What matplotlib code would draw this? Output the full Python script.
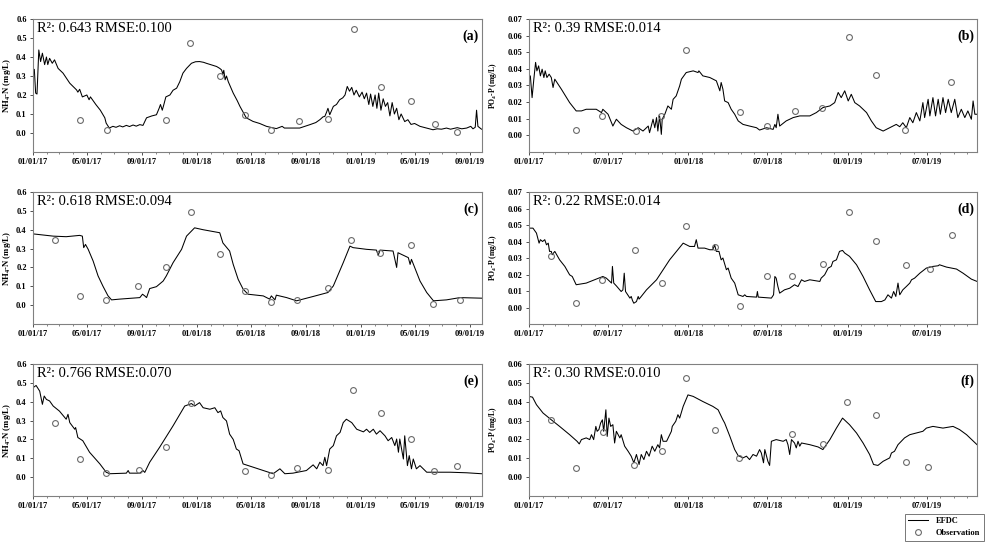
import numpy as np
import pandas as pd
import matplotlib.pyplot as plt
import matplotlib.dates as mdates
from matplotlib.ticker import FixedLocator, FormatStrFormatter

plt.rcParams['font.family'] = ['Liberation Serif', 'DejaVu Serif']
plt.rcParams['mathtext.fontset'] = 'custom'
plt.rcParams['mathtext.rm'] = 'Liberation Serif'
plt.rcParams['mathtext.bf'] = 'Liberation Serif:bold'

START = pd.Timestamp('2017-01-01')

# ---- (a) NH4-N, station 1 (days since 01/01/17) ----
a_days = [0, 3, 6, 9, 13, 17, 21, 26, 30, 33, 37, 43, 48, 56, 67, 82, 97, 100, 104, 110,
          120, 125, 128, 140, 150, 160, 163, 170, 178, 185, 193, 200, 208, 215, 223, 230,
          238, 245, 253, 265, 275, 281, 284, 288, 291, 296, 305, 312, 320, 327, 334, 342,
          353, 362, 371, 380, 386, 398, 409, 416, 420, 423, 425, 428, 431, 435, 446, 455,
          461, 468, 475, 490, 505, 520, 542, 555, 560, 594, 617, 630, 639, 646, 650, 654,
          657, 661, 669, 676, 683, 690, 695, 700, 705, 710, 715, 720, 727, 733, 738, 743,
          748, 752, 757, 762, 766, 770, 775, 780, 785, 790, 795, 800, 805, 810, 815, 820,
          828, 835, 842, 850, 862, 870, 891, 900, 910, 921, 930, 945, 955, 966, 975, 980,
          985, 988, 991, 999]
a_efdc = [0.323, 0.335, 0.21, 0.205, 0.437, 0.376, 0.42, 0.36, 0.40, 0.36, 0.393, 0.367,
          0.385, 0.34, 0.315, 0.262, 0.227, 0.215, 0.23, 0.19, 0.2, 0.175, 0.19, 0.15, 0.12,
          0.08, 0.052, 0.026, 0.035, 0.03, 0.038, 0.032, 0.04, 0.034, 0.042, 0.036, 0.044,
          0.04, 0.08, 0.09, 0.096, 0.13, 0.15, 0.12, 0.145, 0.19, 0.2, 0.225, 0.236, 0.27,
          0.315, 0.34, 0.367, 0.375, 0.376, 0.372, 0.367, 0.358, 0.35, 0.34, 0.332, 0.31,
          0.33, 0.28, 0.3, 0.27, 0.21, 0.17, 0.14, 0.11, 0.08, 0.061, 0.05, 0.035, 0.023,
          0.035, 0.026, 0.026, 0.044, 0.055, 0.07, 0.085, 0.087, 0.11, 0.13, 0.096, 0.14,
          0.15, 0.175, 0.185, 0.2, 0.245, 0.22, 0.24, 0.2, 0.225, 0.19, 0.215, 0.18, 0.21,
          0.15, 0.205, 0.14, 0.2, 0.13, 0.21, 0.12, 0.18, 0.14, 0.16, 0.09, 0.16, 0.1, 0.13,
          0.07, 0.1, 0.06, 0.07, 0.045, 0.05, 0.035, 0.03, 0.017, 0.022, 0.02, 0.026, 0.02,
          0.028, 0.022, 0.026, 0.035, 0.022, 0.03, 0.12, 0.035, 0.02]
a_obs_days = [104, 165, 297, 349, 417, 472, 531, 593, 656, 715, 775, 841, 895, 944]
a_obs = [0.07, 0.017, 0.066, 0.476, 0.30, 0.096, 0.017, 0.061, 0.075, 0.545, 0.241,
         0.171, 0.045, 0.007]

# ---- (c) NH4-N, station 2 ----
c_days = [0, 45, 74, 104, 110, 113, 117, 123, 134, 145, 156, 167, 175, 193, 238, 244,
          249, 253, 260, 275, 290, 297, 312, 331, 342, 360, 379, 416, 423, 438, 446, 457,
          468, 479, 513, 527, 531, 539, 542, 565, 587, 624, 657, 669, 691, 706, 713, 743,
          765, 769, 773, 802, 810, 813, 836, 840, 843, 862, 877, 892, 921, 951, 999]
c_efdc = [0.378, 0.366, 0.363, 0.37, 0.366, 0.305, 0.322, 0.296, 0.234, 0.155, 0.10,
          0.05, 0.028, 0.032, 0.04, 0.058, 0.049, 0.04, 0.088, 0.098, 0.128, 0.155, 0.225,
          0.296, 0.366, 0.41, 0.40, 0.384, 0.33, 0.287, 0.216, 0.137, 0.085, 0.058, 0.049,
          0.032, 0.049, 0.028, 0.053, 0.04, 0.023, 0.046, 0.067, 0.102, 0.225, 0.313,
          0.305, 0.296, 0.292, 0.264, 0.292, 0.287, 0.2, 0.278, 0.252, 0.216, 0.243, 0.128,
          0.067, 0.023, 0.028, 0.04, 0.037]
c_obs_days = [48, 104, 163, 233, 296, 351, 416, 472, 531, 587, 656, 709, 773, 842, 892, 951]
c_obs = [0.343, 0.049, 0.025, 0.102, 0.204, 0.493, 0.271, 0.076, 0.018, 0.028, 0.092,
         0.345, 0.275, 0.32, 0.005, 0.026]

# ---- (e) NH4-N, station 3 ----
e_days = [0, 7, 15, 21, 25, 30, 37, 45, 59, 74, 78, 82, 93, 95, 100, 111, 126, 149, 163,
          171, 208, 212, 215, 238, 245, 249, 260, 282, 312, 338, 353, 360, 371, 379, 394,
          405, 412, 418, 423, 431, 438, 446, 453, 459, 468, 490, 513, 535, 550, 561, 579,
          609, 624, 632, 639, 646, 650, 654, 661, 669, 676, 684, 691, 698, 710, 721, 736,
          743, 750, 758, 765, 773, 784, 791, 799, 806, 810, 814, 817, 825, 828, 834, 838,
          843, 847, 854, 862, 877, 929, 966, 999]
e_efdc = [0.474, 0.486, 0.456, 0.386, 0.43, 0.412, 0.404, 0.377, 0.35, 0.307, 0.333,
          0.289, 0.254, 0.263, 0.21, 0.193, 0.132, 0.07, 0.026, 0.018, 0.021, 0.035, 0.021,
          0.021, 0.035, 0.025, 0.079, 0.158, 0.272, 0.377, 0.39, 0.377, 0.395, 0.368,
          0.36, 0.368, 0.342, 0.351, 0.316, 0.298, 0.228, 0.2, 0.149, 0.14, 0.07, 0.053,
          0.035, 0.018, 0.044, 0.018, 0.021, 0.035, 0.065, 0.044, 0.079, 0.061, 0.105,
          0.061, 0.149, 0.167, 0.219, 0.237, 0.289, 0.307, 0.289, 0.254, 0.24, 0.254,
          0.237, 0.254, 0.228, 0.246, 0.219, 0.193, 0.21, 0.167, 0.202, 0.132, 0.202,
          0.096, 0.219, 0.061, 0.114, 0.044, 0.096, 0.044, 0.061, 0.026, 0.026, 0.023,
          0.018]
e_obs_days = [48, 104, 163, 236, 297, 351, 472, 531, 587, 656, 713, 775, 841, 894, 945]
e_obs = [0.286, 0.096, 0.023, 0.039, 0.158, 0.395, 0.03, 0.012, 0.046, 0.04, 0.461,
         0.342, 0.2, 0.035, 0.058]

# ---- (b) PO4-P, station 1 ----
b_days = [0, 3, 7, 11, 15, 18, 22, 26, 30, 34, 37, 41, 46, 51, 55, 59, 74, 93, 108, 120,
          131, 154, 166, 169, 181, 192, 200, 211, 223, 238, 250, 261, 273, 276, 284, 288,
          292, 295, 299, 303, 305, 311, 318, 326, 330, 337, 345, 349, 360, 376, 387, 389,
          398, 414, 429, 433, 437, 440, 444, 448, 456, 463, 471, 479, 490, 505, 521, 528,
          544, 559, 563, 566, 570, 574, 589, 605, 620, 643, 658, 673, 689, 700, 708, 715,
          723, 731, 738, 746, 757, 773, 784, 795, 811, 826, 841, 849, 856, 864, 872, 879,
          887, 895, 902, 906, 914, 918, 925, 931, 937, 942, 948, 954, 960, 967, 975, 982,
          990, 998, 1005, 1013, 1017, 1021, 1026]
b_efdc = [0.0348, 0.0358, 0.0227, 0.0338, 0.0439, 0.0388, 0.0418, 0.0358, 0.0398, 0.0348,
          0.0388, 0.0348, 0.0368, 0.0348, 0.0288, 0.0338, 0.0278, 0.0197, 0.0147, 0.0147,
          0.0157, 0.0157, 0.0137, 0.0157, 0.0127, 0.0056, 0.0097, 0.0066, 0.0046, 0.0026,
          0.0046, 0.0026, 0.0056, 0.0016, 0.0097, 0.0046, 0.0107, 0.0026, 0.0117, 0.0006,
          0.0097, 0.0127, 0.0177, 0.0157, 0.0217, 0.0237, 0.0298, 0.0338, 0.0378, 0.0388,
          0.0378, 0.0388, 0.0358, 0.0348, 0.0328, 0.0298, 0.0268, 0.0318, 0.0278, 0.0207,
          0.0197, 0.0157, 0.0127, 0.0087, 0.0066, 0.0056, 0.0046, 0.0032, 0.0046, 0.0036,
          0.0066, 0.0046, 0.0127, 0.0056, 0.0087, 0.0107, 0.0117, 0.0117, 0.0137, 0.0167,
          0.0177, 0.0197, 0.0258, 0.0227, 0.0268, 0.0207, 0.0247, 0.0197, 0.0177, 0.0137,
          0.0087, 0.0046, 0.0026, 0.0046, 0.0066, 0.0052, 0.0076, 0.0046, 0.0107, 0.0076,
          0.0137, 0.0087, 0.0197, 0.0107, 0.0217, 0.0117, 0.0227, 0.0117, 0.0217, 0.0127,
          0.0227, 0.0137, 0.0217, 0.0137, 0.0217, 0.0107, 0.0157, 0.0107, 0.0147, 0.0097,
          0.0207, 0.0127, 0.0127]
b_obs_days = [107, 168, 244, 303, 359, 484, 544, 608, 672, 733, 794, 862, 967]
b_obs = [0.0032, 0.0117, 0.0026, 0.0117, 0.0513, 0.0141, 0.0056, 0.0145, 0.0167, 0.059,
         0.0366, 0.0032, 0.0324]

# ---- (d) PO4-P, station 2 ----
d_days = [0, 9, 17, 23, 26, 31, 36, 40, 44, 47, 51, 53, 59, 70, 82, 93, 99, 108, 131, 169,
          177, 189, 191, 194, 200, 211, 215, 218, 221, 231, 234, 237, 240, 246, 250, 252,
          257, 269, 292, 322, 353, 368, 379, 383, 387, 402, 414, 421, 425, 429, 435, 440,
          444, 452, 456, 463, 471, 479, 490, 494, 498, 521, 523, 525, 555, 560, 563, 566,
          570, 574, 585, 597, 608, 616, 624, 631, 643, 666, 669, 677, 685, 692, 696, 704,
          711, 718, 723, 734, 750, 765, 780, 794, 807, 815, 822, 830, 835, 840, 845, 849,
          856, 864, 872, 876, 883, 895, 910, 925, 937, 940, 956, 979, 994, 1013, 1026]
d_efdc = [0.0481, 0.0481, 0.0451, 0.039, 0.0411, 0.040, 0.0411, 0.038, 0.039, 0.034,
          0.034, 0.032, 0.034, 0.0289, 0.0249, 0.0198, 0.0188, 0.0138, 0.0148, 0.0188,
          0.0178, 0.0148, 0.0249, 0.0148, 0.0131, 0.0097, 0.0107, 0.0208, 0.0097, 0.0057,
          0.0067, 0.0042, 0.0026, 0.0036, 0.0067, 0.0051, 0.0067, 0.0107, 0.0168, 0.0289,
          0.039, 0.037, 0.037, 0.0411, 0.036, 0.036, 0.035, 0.035, 0.038, 0.034, 0.034,
          0.0289, 0.030, 0.0229, 0.0239, 0.0178, 0.0148, 0.0077, 0.0067, 0.0077, 0.0067,
          0.0063, 0.0097, 0.0063, 0.0057, 0.0077, 0.0188, 0.0178, 0.0127, 0.0087, 0.0107,
          0.0117, 0.0138, 0.0127, 0.0168, 0.0158, 0.0168, 0.0158, 0.0178, 0.0198, 0.0239,
          0.0249, 0.0279, 0.0289, 0.034, 0.0346, 0.033, 0.031, 0.0259, 0.0188, 0.0107,
          0.0036, 0.0036, 0.0046, 0.0077, 0.0057, 0.0097, 0.0067, 0.0148, 0.0077, 0.0107,
          0.0127, 0.0148, 0.0168, 0.0178, 0.0208, 0.0239, 0.0249, 0.0253, 0.0259, 0.0245,
          0.0233, 0.0208, 0.0172, 0.0158]
d_obs_days = [50, 108, 167, 242, 304, 360, 427, 483, 544, 602, 673, 732, 795, 863, 918, 969]
d_obs = [0.031, 0.0026, 0.0164, 0.035, 0.0148, 0.0494, 0.0366, 0.0008, 0.0188, 0.0188,
         0.0263, 0.0579, 0.0403, 0.0255, 0.0233, 0.0437]

# ---- (f) PO4-P, station 3 ----
f_days = [0, 8, 17, 32, 51, 70, 93, 110, 115, 120, 131, 139, 143, 148, 153, 156, 160, 164,
          168, 171, 176, 179, 183, 187, 192, 196, 200, 208, 211, 219, 227, 234, 240, 246,
          252, 257, 263, 269, 275, 282, 288, 295, 299, 303, 307, 315, 326, 328, 336, 341,
          345, 353, 364, 376, 398, 421, 433, 444, 448, 460, 471, 479, 490, 498, 505, 513,
          521, 528, 532, 537, 540, 547, 551, 555, 566, 582, 589, 593, 597, 601, 608, 612,
          616, 620, 624, 643, 662, 673, 689, 704, 718, 734, 750, 765, 780, 789, 799, 811,
          826, 830, 837, 845, 860, 872, 887, 902, 910, 925, 948, 971, 986, 1002, 1026]
f_efdc = [0.0428, 0.0424, 0.0384, 0.034, 0.0304, 0.0269, 0.0225, 0.019, 0.0176, 0.0199,
          0.0208, 0.0199, 0.0225, 0.0199, 0.0269, 0.0243, 0.0252, 0.0287, 0.0304, 0.0243,
          0.0357, 0.0216, 0.0313, 0.0269, 0.0278, 0.0181, 0.0243, 0.0208, 0.0225, 0.0164,
          0.0137, 0.0111, 0.0076, 0.012, 0.0067, 0.012, 0.0093, 0.0137, 0.0111, 0.0164,
          0.0137, 0.0172, 0.0155, 0.0225, 0.019, 0.019, 0.0243, 0.0269, 0.0296, 0.0331,
          0.0313, 0.0375, 0.0436, 0.0428, 0.0401, 0.0375, 0.0357, 0.0304, 0.0287, 0.0216,
          0.0146, 0.0114, 0.0102, 0.0111, 0.0093, 0.012, 0.0111, 0.0146, 0.0128, 0.0076,
          0.0146, 0.0084, 0.0062, 0.019, 0.0199, 0.019, 0.0199, 0.0172, 0.012, 0.0199,
          0.0181, 0.0155, 0.019, 0.0164, 0.0181, 0.0172, 0.016, 0.0146, 0.0199, 0.026,
          0.0313, 0.0278, 0.0234, 0.0181, 0.012, 0.0067, 0.0062, 0.0084, 0.0102, 0.0128,
          0.0137, 0.0172, 0.0208, 0.0225, 0.0234, 0.0243, 0.026, 0.0269, 0.026, 0.0269,
          0.0252, 0.0225, 0.0172]
f_obs_days = [50, 107, 169, 240, 304, 360, 427, 482, 602, 673, 729, 795, 863, 914]
f_obs = [0.0304, 0.0046, 0.0238, 0.0062, 0.0137, 0.0524, 0.0252, 0.0102, 0.0229, 0.0176,
         0.0396, 0.0327, 0.0081, 0.0053]

panel_labels = ['(a)', '(b)', '(c)', '(d)', '(e)', '(f)']
stats_text = ['R²: 0.643 RMSE:0.100', 'R²: 0.39 RMSE:0.014',
              'R²: 0.618 RMSE:0.094', 'R²: 0.22 RMSE:0.014',
              'R²: 0.766 RMSE:0.070', 'R²: 0.30 RMSE:0.010']


def to_dates(days):
    """Convert day offsets from 01/01/17 into timestamps."""
    return START + pd.to_timedelta(days, unit='D')


def plot_panel(ax, days, efdc, obs_days, obs, label, stats, nh4, ymax):
    """Draw one simulated vs. observed panel."""
    ax.plot(to_dates(days), efdc, color='black', lw=0.75, label='EFDC')
    ax.plot(to_dates(obs_days), obs, 'o', mfc='none', mec='#6a6a6a', mew=0.8, ms=4.2,
            label='Observation')

    ax.xaxis.set_minor_locator(mdates.MonthLocator())
    ax.xaxis.set_major_formatter(mdates.DateFormatter('%m/%d/%y'))
    if nh4:
        ax.set_xlim(START, pd.Timestamp('2019-09-28'))
        ax.xaxis.set_major_locator(mdates.MonthLocator(bymonth=[1, 5, 9]))
        ax.set_ylim(-0.1, ymax)
        ax.yaxis.set_major_locator(FixedLocator(np.round(np.arange(0, ymax + 1e-9, 0.1), 2)))
        ax.yaxis.set_major_formatter(FormatStrFormatter('%.1f'))
        ax.set_ylabel(r'NH$_\mathbf{4}$-N (mg/L)', fontsize=6.3, fontweight='bold')
        ax.yaxis.set_label_coords(-0.044, 0.5)
    else:
        ax.set_xlim(START, pd.Timestamp('2019-10-24'))
        ax.xaxis.set_major_locator(mdates.MonthLocator(bymonth=[1, 7]))
        ax.set_ylim(-0.01, ymax)
        ax.yaxis.set_major_locator(FixedLocator(np.round(np.arange(0, ymax + 1e-9, 0.01), 3)))
        ax.yaxis.set_major_formatter(FormatStrFormatter('%.2f'))
        ax.set_ylabel(r'PO$_\mathbf{4}$-P (mg/L)', fontsize=5.5, fontweight='bold')
        ax.yaxis.set_label_coords(-0.068, 0.5)

    ax.tick_params(axis='both', which='major', labelsize=6, length=2.5, width=0.6,
                   pad=2, colors='#333333', labelcolor='black')
    ax.tick_params(axis='x', which='minor', length=1.5, width=0.5, colors='#555555')
    for lab in ax.get_xticklabels() + ax.get_yticklabels():
        lab.set_fontweight('bold')
    for sp in ax.spines.values():
        sp.set_color('#808080')
        sp.set_linewidth(0.8)

    ax.text(0.008, 0.975, stats, transform=ax.transAxes, ha='left', va='top', fontsize=10.5)
    ax.text(0.993, 0.87, label, transform=ax.transAxes, ha='right', va='center',
            fontsize=10, fontweight='bold')


fig = plt.figure(figsize=(9.87, 5.43), dpi=100)
rows = [(0.7201, 0.2449), (0.4033, 0.2431), (0.0866, 0.2431)]
cols = [(0.0334, 0.4549), (0.5360, 0.4539)]

left_data = [(a_days, a_efdc, a_obs_days, a_obs, 0.6),
             (c_days, c_efdc, c_obs_days, c_obs, 0.6),
             (e_days, e_efdc, e_obs_days, e_obs, 0.6)]
right_data = [(b_days, b_efdc, b_obs_days, b_obs, 0.07),
              (d_days, d_efdc, d_obs_days, d_obs, 0.07),
              (f_days, f_efdc, f_obs_days, f_obs, 0.06)]

for i, (y0, h) in enumerate(rows):
    ax_l = fig.add_axes([cols[0][0], y0, cols[0][1], h])
    days, efdc, od, ob, ymax = left_data[i]
    plot_panel(ax_l, days, efdc, od, ob, panel_labels[2 * i], stats_text[2 * i], True, ymax)

    ax_r = fig.add_axes([cols[1][0], y0, cols[1][1], h])
    days, efdc, od, ob, ymax = right_data[i]
    plot_panel(ax_r, days, efdc, od, ob, panel_labels[2 * i + 1], stats_text[2 * i + 1], False, ymax)

handles, labels = ax_r.get_legend_handles_labels()
leg = fig.legend(handles, labels, loc='lower right', bbox_to_anchor=(0.997, 0.004),
                 prop={'weight': 'bold', 'size': 6}, frameon=True, fancybox=False,
                 edgecolor='#555555', borderpad=0.45, handlelength=2.3, handletextpad=1.0,
                 labelspacing=0.45, borderaxespad=0.0)
leg.get_frame().set_linewidth(0.7)

fig.savefig('out.png', dpi=100)
